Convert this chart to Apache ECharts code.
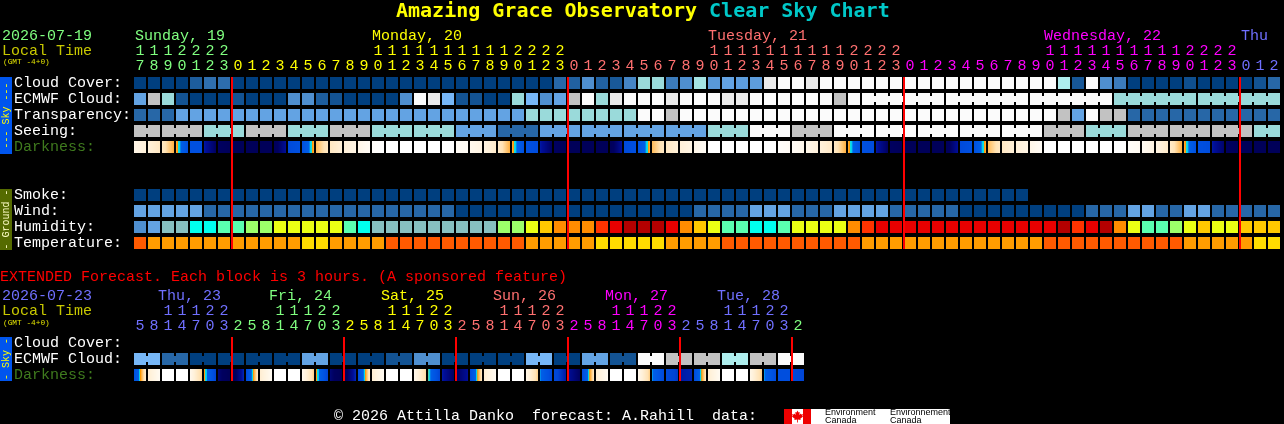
<!DOCTYPE html>
<html><head><meta charset="utf-8">
<style>html,body{margin:0;padding:0;background:#000;overflow:hidden}#c{width:1284px;height:424px}</style>
<script src="https://cdn.jsdelivr.net/npm/echarts@6/dist/echarts.min.js"></script>
</head><body><div id="c"></div>
<script>
const mainHours=['17','18','19','20','21','22','23',
 '0','1','2','3','4','5','6','7','8','9','10','11','12','13','14','15','16','17','18','19','20','21','22','23',
 '0','1','2','3','4','5','6','7','8','9','10','11','12','13','14','15','16','17','18','19','20','21','22','23',
 '0','1','2','3','4','5','6','7','8','9','10','11','12','13','14','15','16','17','18','19','20','21','22','23',
 '0','1','2'];
const extHours=['5','8','11','14','17','20','23',
 '2','5','8','11','14','17','20','23','2','5','8','11','14','17','20','23',
 '2','5','8','11','14','17','20','23','2','5','8','11','14','17','20','23',
 '2','5','8','11','14','17','20','23','2'];
const mainDayStarts=[7,31,55,79];
const extDayStarts=[7,15,23,31,39,47];
const mainRows=['Cloud Cover:','ECMWF Cloud:','Transparency:','Seeing:','Darkness:','','','Smoke:','Wind:','Humidity:','Temperature:'];
const extRows=['Cloud Cover:','ECMWF Cloud:','Darkness:'];
const cloudCover=[0,0,0,0,1.5,2.4,2.3,0,0,0, 0,0,0,0,0,0,0,0,0,0, 0,0,0,0,0,0,0,0,0,0,
 2,1.7,4,1.7,1.3,3.5,7,7,3,4, 7.5,4.5,5,4.7,4.7,10,11,11,10,11, 11,11,11,11,11,11,11,11,11,11,
 11,11,11,11,11,11,8,1.2,11,4, 3,0,0,0,0,0.8,0,0,0,0, 1,2];
const ecmwfCloud=[5,9,7,1,0,0,0,1,0,0, 0,4,4,1.5,1,0,0,0,0,4, 11,10,6,1,1,0,0,7,6,4,
 5,9,11,7,10,11,11,11,10,11, 11,11,10,10,11,11,11,11,11,11, 9,11,11,11,11,11,11,11,11,11,
 11,11,11,11,11,11,11,11,11,11, 7,7,7,7,7,7,7,7,7,7, 7,7];
const ecmwfGroups=[1,1,1,1,1,1,1,1,1,1,1,1,1,1,1,1,1,1,1,1,1,1,1,1,1,1,1,1,1,1,1,1,1,1,1,1,1,1,1,1,1,1,1,1,1,1,1,1,1,1,1,1,6,6,6,6,6];
const transparency=[2,2,2,5,5,5,5,5,5,5, 5,5,5,5,5,5,5,5,5,5, 5,5,5,5,5,5,5,5,7,7,
 7,7,7,7,7,7,11,11,9,11, 11,11,11,11,11,11,11,11,11,11, 11,11,11,11,11,11,11,11,11,11,
 11,11,11,11,11,11,9,5,11,9, 9,2,2,2,2,2,2,2,2,2, 2,2];
const seeing=[9,9,9,9,9,7,7,7,9,9, 9,7,7,7,9,9,9,7,7,7, 7,7,7,5,5,5,2,2,2,5,
 5,5,5,5,5,5,5,5,5,5, 5,7,7,7,11,11,11,9,9,9, 11,11,11,11,11,11,11,11,11,11,
 11,11,11,11,11,9,9,9,7,7, 7,9,9,9,9,9,9,9,9,9, 7,7];
const seeingGroups=[2,3,3,3,3,3,3,3,3,3,3,3,3,3,3,3,3,3,3,3,3,3,3,3,3,3,3,2];
const darkStart=[1.4,1.9,2.6,4,7,8.8,10,10.6,10.6,10.6, 10.5,7.5,7,3.8,2.6,2,1.4,0.4,0,0, 0,0,0,0.8,1.2,1.6,2.4,4,7,8.8,
 10,10.6,10.6,10.6,10.5,7.5,7,3.8,2.6,2, 1.4,0,0,0,0,0,0.3,0.8,1.3,1.9, 2.5,4,7,8.8,10,10.6,10.6,10.6,10.5,7.5,
 7,3.8,2.6,2,1.4,0,0,0,0,0, 0,0.5,1,1.6,2.4,4,7,8.8,10,10.6, 10.6,10.6];
const darkEnd=[1.9,2.6,4,7,7,10,10.6,10.6,10.6,10.6, 9,7,4,2.6,2,1.5,0.8,0,0,0, 0,0,0,0.8,1.6,2.4,4,7,7.3,10,
 10.6,10.6,10.6,10.6,9,7,4,2.6,2,1.5, 0.8,0,0,0,0,0,0.8,1.3,1.9,2.5, 4,7,7.3,10,10.6,10.6,10.6,10.6,9,7,
 4,2.6,2,1.5,0.8,0,0,0,0,0, 0,1,1.6,2.4,4,7,7.3,9.8,10.6,10.6, 10.6,10.6];
const smoke=[0,0,0,0,0,0,0,0,0,0, 0,0,0,0,0,0,0,0,0,0, 0,0,0,0,0,0,0,0,0,0,
 0,0,0,0,0,0,0,0,0,0, 0,0,0,0,0,0,0,0,0,0, 0,0,0,0,0,0,0,0,0,0, 0,0,0,0];
const wind=[5,5,5,5,5,2,2,2,2,2, 2,2,2,2,2,2,2,2,2,2, 2,2,2,0,0,0,0,0,0,0,
 0,0,0,0,0,0,0,0,0,0, 2,2,2,2,5,5,5,2,2,2, 5,5,5,5,2,2,2,2,2,0,
 0,0,0,0,0,0,0,0,2,2, 2,5,5,2,2,5,5,2,2,2, 2,2];
const humidity=[0,11,1,1,2,2,3,3,4,4, 5,5,5,5,5,3,2,1,1,1, 1,1,1,1,1,1,4,4,5,6,
 7,7,7,8,9,10,10,10,9,7, 6,5,3,3,2,2,3,5,5,5, 5,7,8,9,9,9,9,9,9,9,
 9,9,9,9,9,9,10,8,9,10, 7,5,3,3,4,5,6,5,5,6, 6,6];
const temperature=[0,1,1,1,1,1,1,1,1,1, 1,1,2,2,1,1,1,1,0,0, 0,0,0,0,0,0,0,0,1,1,
 1,1,1,2,2,2,2,2,1,1, 1,1,0,0,0,0,0,0,0,0, 0,0,1,1,1,1,1,1,1,1,
 1,1,1,1,1,0,0,0,0,0, 0,0,0,0,0,1,1,1,1,1, 2,2];
const extEcmwf=[6,6,2,2,0,0,0,0,0,0,0,0,5,5,0,0,0,0,1,1,4,4,0,0,0,0,0,0,6,6,0,0,5,5,1,1,11,11,9,9,9,9,8,8,9,9,11,11];
const extGroups=[2,2,2,2,2,2,2,2,2,2,2,2,2,2,2,2,2,2,2,2,2,2,2,2];
const extDarkStart=[7,2.2,0,0,1.2,4.2,9.6,10.8,7.5,2.2,0,0,1.2,4.2,9.6,10.6,7.5,2.2,0,0,1.2,4.4,8.8,10,7.5,2.2,0,0,1.4,5,7.6,9,7.5,2.2,0,0,1.2,5,7.5,8.8,7.5,2.2,0,0,1.4,5,7.2,7.5];
const extDarkEnd=[2.2,1,0,0,3.4,8,10.8,8.5,2.4,1,0,0,3.4,8,10.8,8.5,2.4,1,0,0,3.2,8,10,9,2.6,1,0,0,3.4,7.8,8.8,10,2.6,1,0,0,3.4,7.6,8.2,8.6,2.6,1,0,0,3.4,7.5,7.2,8];

const cloudColors=['#003F7F','#135393','#2767A7','#3B7BBB','#4F8FCF','#63A3E3','#77B7F7','#9ADADA','#AEEEEE','#C2C2C2','#EAEAEA','#FBFBFB'];
const humidColors=['#4F8FCF','#87C0C0','#00FFEE','#5AFFB0','#9CFF6A','#EBFF14','#FFC800','#FF8C00','#FF3300','#E80000','#B40000','#63A3E3'];
const tempColors=['#FF5A00','#FF9C00','#FFDC00'];
const darkRampAt=[0,1,2,3,4,4.4,4.6,5,5.2,7,8,9,10,11];
const darkRamp=['#FFFFFF','#FFFAF2','#FFF0D8','#FFE2B4','#FFB040','#FF9800','#10E0E0','#00C8F0','#0060E8','#0050E0','#0044D4','#000E98','#000060','#000054'];

const CELL=12, PITCH=14, LEFT=133;
const GREEN='#80FF80',YEL='#FFFF00',RED='#FF7070',MAG='#FF00FF',BLU='#7070FF';
const mono='"Liberation Mono"';

function hexToRgb(h){return [1,3,5].map(i=>parseInt(h.substr(i,2),16));}
function mixHex(p,q,f){const A=hexToRgb(p),B=hexToRgb(q);return 'rgb('+A.map((c,i)=>Math.round(c+(B[i]-c)*f)).join(',')+')';}
function rampColor(pal,v){
  const a=Math.max(0,Math.min(pal.length-1,Math.floor(v))),b=Math.min(pal.length-1,a+1);
  return mixHex(pal[a],pal[b],v-a);
}
function darkColor(v){
  let k=0;while(k<darkRampAt.length-2&&v>darkRampAt[k+1])k++;
  return mixHex(darkRamp[k],darkRamp[k+1],Math.min(1,(v-darkRampAt[k])/(darkRampAt[k+1]-darkRampAt[k])));
}
function joinFlags(sizes,n){
  const f=new Array(n).fill(0);let p=0;
  sizes.forEach(s=>{for(let i=0;i<s-1;i++)f[p+i]=1;p+=s;});
  return f;
}
function cells(vals,row,palIdx,groups){
  const j=groups?joinFlags(groups,vals.length):null;
  return vals.map((v,i)=>[i,row,v,palIdx,j?j[i]:0,0]);
}
function darkCells(s,e,row){return s.map((v,i)=>[i,row,v,3,0,e[i]]);}
const pals=[cloudColors,humidColors,tempColors];

function renderCell(p,api){
  const c=api.coord([api.value(0),api.value(1)]);
  const x=c[0]-CELL/2,y=c[1]-CELL/2;
  const v=api.value(2),pal=api.value(3),join=api.value(4);
  let fill;
  if(pal===3){
    const e=api.value(5),st=[];
    for(let k=0;k<=24;k++)st.push({offset:k/24,color:darkColor(v+(e-v)*k/24)});
    fill=new echarts.graphic.LinearGradient(0,0,1,0,st);
  } else if(pal===1||pal===2){
    fill=pals[pal][v];
  } else fill=rampColor(cloudColors,v);
  const kids=[{type:'rect',shape:{x,y,width:CELL,height:CELL},style:{fill}}];
  if(join)kids.push({type:'rect',shape:{x:x+CELL,y:y+3,width:PITCH-CELL,height:6},style:{fill}});
  return {type:'group',children:kids};
}
function lineRenderer(r0,r1){
  return function(p,api){
    const a=api.coord([api.value(0),r0]),b=api.coord([api.value(0),r1]);
    return {type:'rect',shape:{x:a[0]-PITCH/2,y:a[1]-CELL/2,width:2,height:b[1]-a[1]+CELL},style:{fill:'#FF0000'}};
  };
}
function hourData(hours,starts,cols){
  let d=0;
  return hours.map((h,i)=>{
    while(d<starts.length&&i>=starts[d])d++;
    return {value:String(i)+'|'+h,textStyle:{color:cols[d],fontFamily:mono,fontSize:15,lineHeight:15}};
  });
}
function xAxis(hours,starts,cols,grid){
  return {type:'category',gridIndex:grid,position:'top',data:hourData(hours,starts,cols),
    axisLine:{show:false},axisTick:{show:false},splitLine:{show:false},
    axisLabel:{show:true,interval:0,margin:1,fontFamily:mono,fontSize:15,lineHeight:15,hideOverlap:false,
      formatter:v=>{const h=v.split('|')[1];return (h.length>1?h[0]:' ')+'\n'+h[h.length-1];}}};
}
function yAxis(rows,grid){
  return {type:'category',gridIndex:grid,inverse:true,data:rows.map((r,i)=>({value:i+'|'+r,textStyle:{align:'left',fontFamily:mono,fontSize:15,padding:[0,0,8,0],color:r==='Darkness:'?'#3F7A1E':'#FFFFFF'}})),
    axisLine:{show:false},axisTick:{show:false},splitLine:{show:false},
    axisLabel:{show:true,interval:0,align:'left',margin:LEFT-14,fontFamily:mono,fontSize:15,hideOverlap:false,
      formatter:v=>v.split('|')[1]}};
}
function txt(x,y,text,fill,size,extra){
  return Object.assign({type:'text',x,y,silent:true,style:{text,fill,fontFamily:mono,fontSize:size||15,verticalAlign:'middle',align:'left'}},extra||{});
}
function vtxt(cx,cy,text,fill){
  return {type:'text',x:cx,y:cy,rotation:Math.PI/2,silent:true,style:{text,fill,fontFamily:mono,fontSize:10,align:'center',verticalAlign:'middle'}};
}
function rect(x,y,w,h,fill){return {type:'rect',silent:true,shape:{x,y,width:w,height:h},style:{fill}};}

const leaf=[[0,-6],[1,-4],[2.2,-4.6],[1.8,-1.6],[3.2,-3],[3.6,-2],[5.4,-2.4],[4.8,-0.4],[5.6,0],[2.8,2.2],[3.2,3.4],[0.4,3],[0.4,6],[-0.4,6],[-0.4,3],[-3.2,3.4],[-2.8,2.2],[-5.6,0],[-4.8,-0.4],[-5.4,-2.4],[-3.6,-2],[-3.2,-3],[-1.8,-1.6],[-2.2,-4.6],[-1,-4]].map(p=>[797.5+p[0],416.5+p[1]]);

const graphics=[
  {type:'text',x:396,y:12,silent:true,style:{rich:{a:{fill:'#FFFF00',fontFamily:'"DejaVu Sans Mono"',fontWeight:'bold',fontSize:20},b:{fill:'#00C8C8',fontFamily:'"DejaVu Sans Mono"',fontWeight:'bold',fontSize:20}},text:'{a|Amazing Grace Observatory }{b|Clear Sky Chart}',verticalAlign:'middle',align:'left'}},
  txt(2,36,'2026-07-19',GREEN), txt(2,51,'Local Time','#C8C800'), txt(3,62,'(GMT -4+0)','#E0E000',7.8),
  txt(LEFT+2,36,'Sunday, 19',GREEN), txt(372,36,'Monday, 20',YEL), txt(708,36,'Tuesday, 21',RED), txt(1044,36,'Wednesday, 22',MAG), txt(1241,36,'Thu',BLU),
  txt(0,277,'EXTENDED Forecast. Each block is 3 hours. (A sponsored feature)','#FF0000'),
  txt(2,296,'2026-07-23',BLU), txt(2,311,'Local Time','#C8C800'), txt(3,322.5,'(GMT -4+0)','#E0E000',7.8),
  txt(158,296,'Thu, 23',BLU), txt(269,296,'Fri, 24',GREEN), txt(381,296,'Sat, 25',YEL), txt(493,296,'Sun, 26',RED), txt(605,296,'Mon, 27',MAG), txt(717,296,'Tue, 28',BLU),
  rect(0,77,12,77,'#0055EE'), vtxt(6,115.5,'--- Sky ---','#FFFF00'),
  rect(0,189,12,61,'#556B00'), vtxt(6,219.5,'- Ground -','#FFFFC8'),
  rect(0,337,12,44,'#0055EE'), vtxt(6,359,'- Sky -','#FFFF00'),
  txt(334,416,'\u00A9 2026 Attilla Danko  forecast: A.Rahill  data:','#FFFFFF'),
  rect(784,409,166,15,'#FFFFFF'), rect(784,409,8,15,'#EE0000'), rect(803,409,8,15,'#EE0000'),
  {type:'polygon',silent:true,shape:{points:leaf},style:{fill:'#EE0000'}},
  {type:'text',x:825,y:413,silent:true,style:{text:'Environment',fill:'#000',fontFamily:'"Liberation Sans"',fontSize:9,verticalAlign:'middle'}},
  {type:'text',x:825,y:420.5,silent:true,style:{text:'Canada',fill:'#000',fontFamily:'"Liberation Sans"',fontSize:9,verticalAlign:'middle'}},
  {type:'text',x:890,y:413,silent:true,style:{text:'Environnement',fill:'#000',fontFamily:'"Liberation Sans"',fontSize:9,verticalAlign:'middle'}},
  {type:'text',x:890,y:420.5,silent:true,style:{text:'Canada',fill:'#000',fontFamily:'"Liberation Sans"',fontSize:9,verticalAlign:'middle'}}
];

const mainData=[].concat(
  cells(cloudCover,0,0), cells(ecmwfCloud,1,0,ecmwfGroups), cells(transparency,2,0), cells(seeing,3,0,seeingGroups),
  darkCells(darkStart,darkEnd,4), cells(smoke,7,0), cells(wind,8,0), cells(humidity,9,1), cells(temperature,10,2));
const extData=[].concat(cells(extEcmwf,1,0,extGroups), darkCells(extDarkStart,extDarkEnd,2));

const chart=echarts.init(document.getElementById('c'),null,{renderer:'canvas',width:1284,height:424,devicePixelRatio:1});
chart.setOption({
  animation:false,backgroundColor:'#000000',
  grid:[{left:LEFT,top:75,width:mainHours.length*PITCH,height:mainRows.length*16,outerBoundsMode:'none',containLabel:false},
        {left:LEFT,top:335,width:extHours.length*PITCH,height:extRows.length*16,outerBoundsMode:'none',containLabel:false}],
  xAxis:[xAxis(mainHours,mainDayStarts,[GREEN,YEL,RED,MAG,BLU],0),
         xAxis(extHours,extDayStarts,[BLU,GREEN,YEL,RED,MAG,BLU,GREEN],1)],
  yAxis:[yAxis(mainRows,0),yAxis(extRows,1)],
  series:[
    {type:'custom',xAxisIndex:0,yAxisIndex:0,renderItem:renderCell,data:mainData,encode:{x:0,y:1},clip:false,silent:true,z:2},
    {type:'custom',xAxisIndex:1,yAxisIndex:1,renderItem:renderCell,data:extData,encode:{x:0,y:1},clip:false,silent:true,z:2},
    {type:'custom',xAxisIndex:0,yAxisIndex:0,renderItem:lineRenderer(0,10),data:mainDayStarts.map(d=>[d]),encode:{x:0},clip:false,silent:true,z:5},
    {type:'custom',xAxisIndex:1,yAxisIndex:1,renderItem:lineRenderer(0,2),data:extDayStarts.map(d=>[d]),encode:{x:0},clip:false,silent:true,z:5}
  ],
  graphic:graphics
});
</script></body></html>
